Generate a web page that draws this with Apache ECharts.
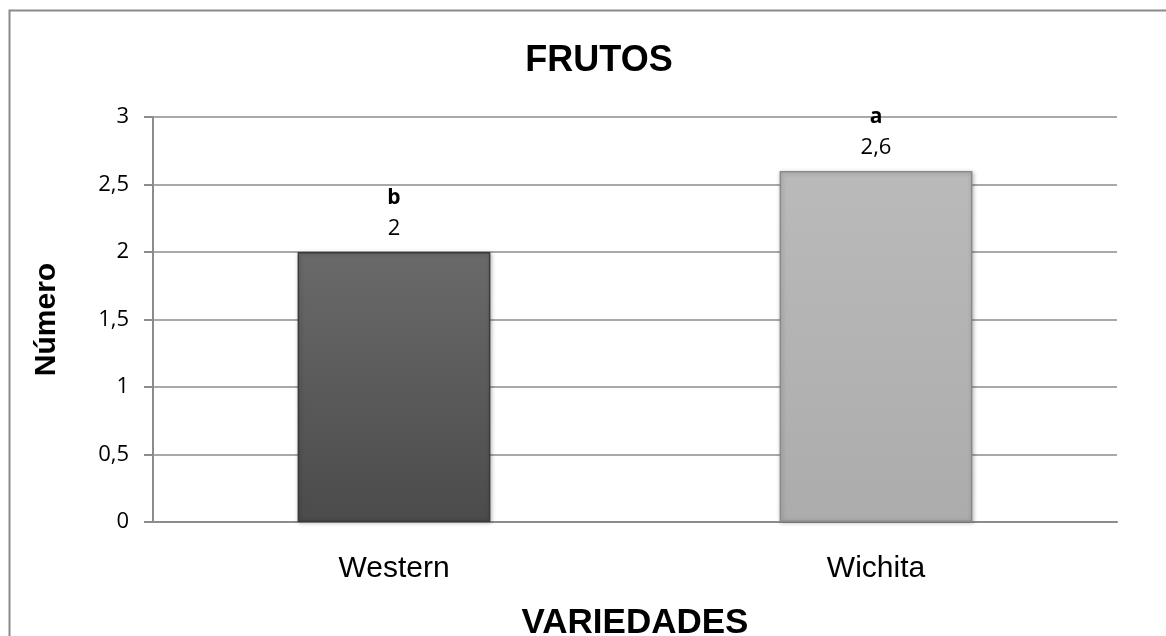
<!DOCTYPE html>
<html>
<head>
<meta charset="utf-8">
<script src="https://cdn.jsdelivr.net/npm/echarts@6/dist/echarts.min.js"></script>
<style>html,body{margin:0;padding:0;background:#fff;}#c{width:1166px;height:636px;}</style>
</head>
<body>
<div id="c"></div>
<script>
var categories = ['Western', 'Wichita'];
var values = [2, 2.6];
var letters = ['b', 'a'];
var yTicks = [0, 0.5, 1, 1.5, 2, 2.5, 3];

var barStyles = [
  {top: '#6a6a6a', bottom: '#4b4b4b', border: '#3a3a3a'},
  {top: '#bababa', bottom: '#acacac', border: '#8a8a8a'}
];

var chart = echarts.init(document.getElementById('c'), null, {renderer: 'canvas'});
var comma = function (v) { return String(v).replace('.', ','); };

chart.setOption({
  animation: false,
  backgroundColor: '#fff',
  graphic: [{
    type: 'rect', left: 7, top: 8, silent: true,
    shape: {x: 0, y: 0, width: 1250, height: 700},
    style: {fill: 'none', stroke: '#8a8a8a', lineWidth: 2}
  }],
  title: {
    text: 'FRUTOS', left: 594, top: 38, textAlign: 'center',
    textStyle: {fontFamily: 'Liberation Sans', fontWeight: 'bold', fontSize: 36, color: '#000'}
  },
  grid: {left: 153, right: 49, top: 117, bottom: 114, containLabel: false, outerBoundsMode: 'none'},
  xAxis: {
    type: 'category', data: categories,
    name: 'VARIEDADES', nameLocation: 'middle', nameGap: 84,
    nameTextStyle: {fontFamily: 'Liberation Sans', fontWeight: 'bold', fontSize: 35, color: '#000'},
    axisLine: {lineStyle: {color: '#8c8c8c', width: 2}},
    axisTick: {show: false},
    axisLabel: {fontFamily: 'Liberation Sans', fontSize: 30, color: '#000', margin: 32}
  },
  yAxis: {
    type: 'value', min: 0, max: 3, interval: 0.5,
    name: 'Número', nameLocation: 'middle', nameGap: 91, nameRotate: 90,
    nameTextStyle: {fontFamily: 'Liberation Sans', fontWeight: 'bold', fontSize: 30, color: '#000'},
    axisLine: {show: true, lineStyle: {color: '#8c8c8c', width: 2}},
    axisTick: {show: true, length: 9, lineStyle: {color: '#8c8c8c', width: 2}},
    splitLine: {lineStyle: {color: '#8c8c8c', width: 1.5}},
    axisLabel: {fontFamily: 'Open Sans', fontSize: 22, color: '#000', margin: 24,
      formatter: function (v) { return yTicks.indexOf(v) >= 0 ? comma(v) : ''; }}
  },
  series: [{
    type: 'bar', barWidth: '40%',
    data: values.map(function (v, i) {
      var s = barStyles[i];
      return {
        value: v,
        itemStyle: {
          color: new echarts.graphic.LinearGradient(0, 0, 0, 1, [
            {offset: 0, color: s.top}, {offset: 1, color: s.bottom}
          ]),
          borderColor: s.border, borderWidth: 1.5,
          shadowColor: 'rgba(0,0,0,0.25)', shadowBlur: 4, shadowOffsetX: 1, shadowOffsetY: 1
        },
        label: {
          show: true, position: 'top', distance: 8,
          formatter: '{l|' + letters[i] + '}\n{v|' + comma(v) + '}',
          rich: {
            l: {fontFamily: 'Open Sans', fontWeight: 'bold', fontSize: 21, color: '#000', lineHeight: 32},
            v: {fontFamily: 'Open Sans', fontSize: 22, color: '#000', lineHeight: 30}
          }
        }
      };
    })
  }]
});
</script>
</body>
</html>
